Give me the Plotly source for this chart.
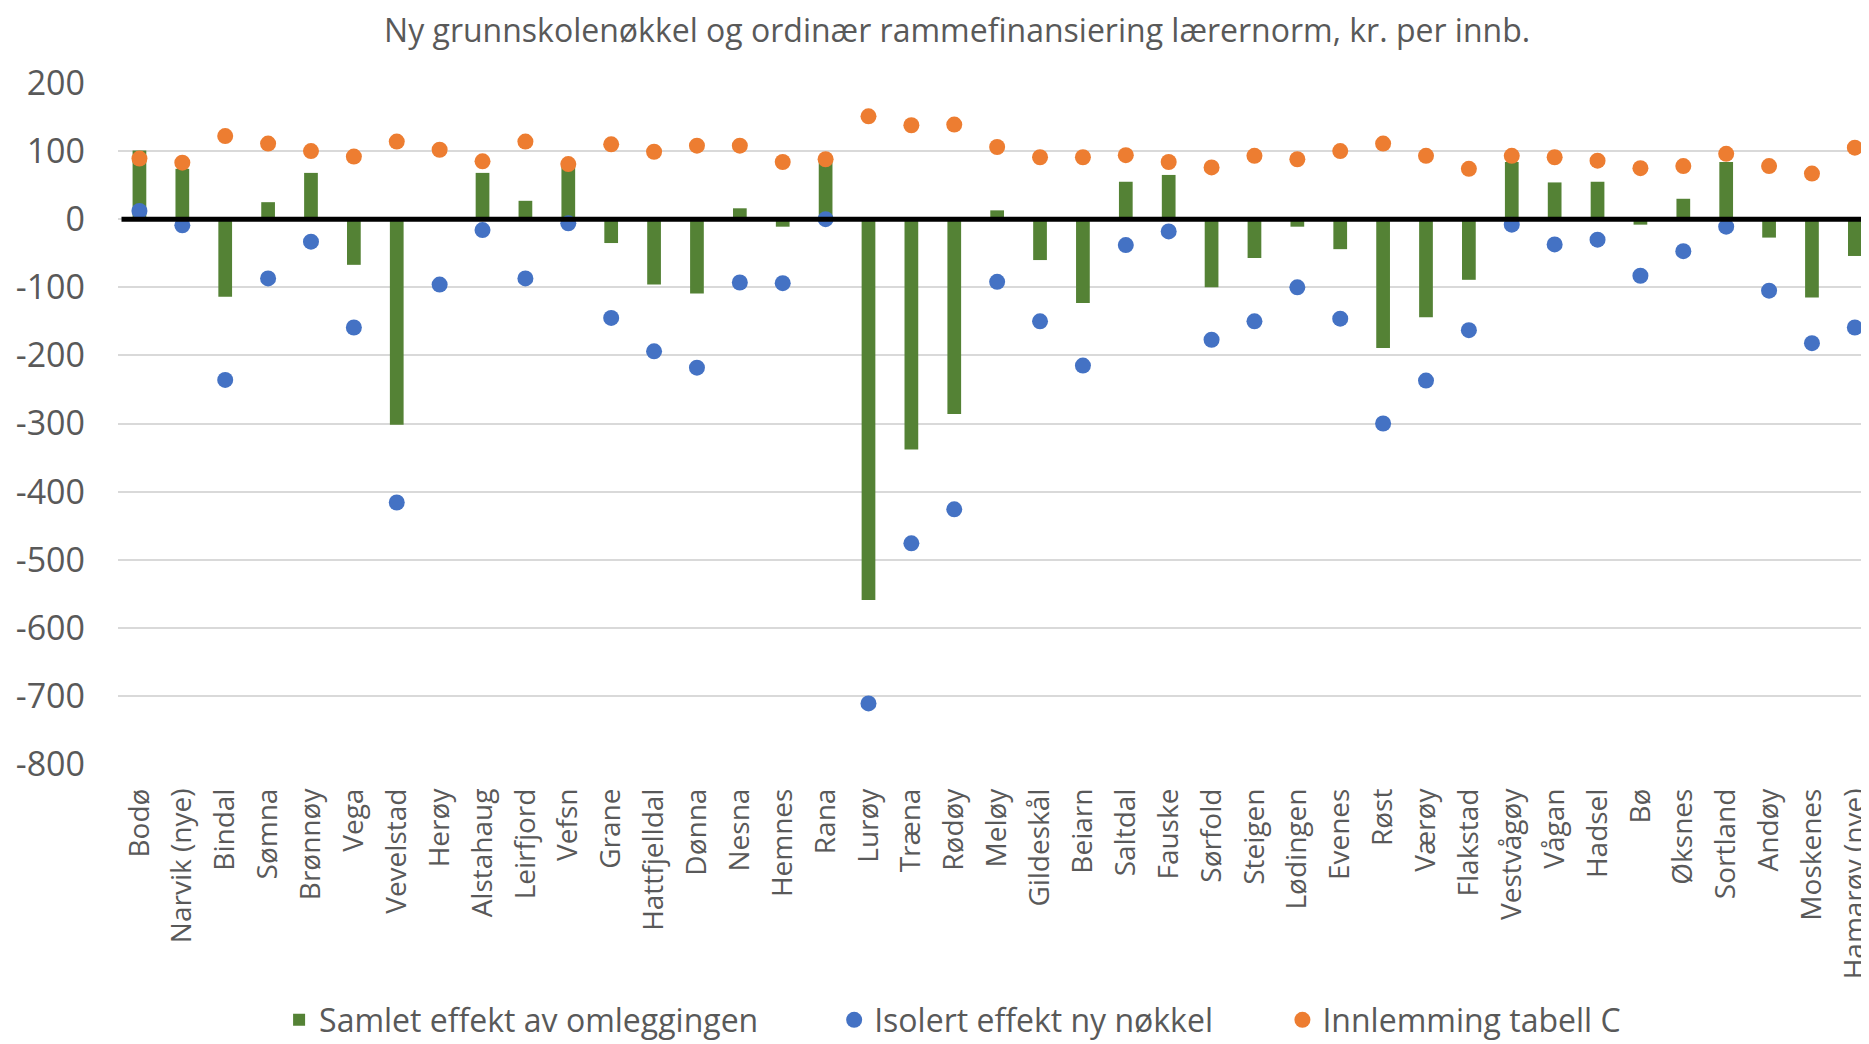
import plotly.graph_objects as go

kommuner = ["Bodø", "Narvik (nye)", "Bindal", "Sømna", "Brønnøy", "Vega", "Vevelstad", "Herøy",
            "Alstahaug", "Leirfjord", "Vefsn", "Grane", "Hattfjelldal", "Dønna", "Nesna", "Hemnes",
            "Rana", "Lurøy", "Træna", "Rødøy", "Meløy", "Gildeskål", "Beiarn", "Saltdal", "Fauske",
            "Sørfold", "Steigen", "Lødingen", "Evenes", "Røst", "Værøy", "Flakstad", "Vestvågøy",
            "Vågan", "Hadsel", "Bø", "Øksnes", "Sortland", "Andøy", "Moskenes", "Hamarøy (nye)"]

samlet = [101, 74, -114, 25, 68, -67, -302, 0, 68, 27, 80, -35, -96, -109, 16, -11,
          86, -559, -338, -286, 13, -60, -123, 55, 65, -100, -57, -11, -44, -189, -144, -89,
          84, 54, 55, -8, 30, 84, -27, -115, -54]

isolert = [12, -9, -236, -87, -33, -159, -416, -96, -16, -87, -6, -145, -194, -218, -93, -94,
           0, -711, -476, -426, -92, -150, -215, -38, -18, -177, -150, -100, -146, -300, -237, -163,
           -8, -37, -30, -83, -47, -11, -105, -182, -159]

innlemming = [89, 83, 122, 111, 100, 92, 114, 102, 85, 114, 81, 110, 99, 108, 108, 84,
              88, 151, 138, 139, 106, 91, 91, 94, 84, 76, 93, 88, 100, 111, 93, 74,
              93, 91, 86, 75, 78, 96, 78, 67, 105]

y_ticks = [200, 100, 0, -100, -200, -300, -400, -500, -600, -700, -800]
y_labels = [str(v) for v in y_ticks]  # plain hyphen like the original

grey = "#595959"
font = "Open Sans"

fig = go.Figure()
fig.add_trace(go.Bar(x=kommuner, y=samlet, name="Samlet effekt av omleggingen",
                     marker=dict(color="#548235", line=dict(width=0)), width=0.32,
                     legend="legend"))
fig.add_trace(go.Scatter(x=kommuner, y=isolert, mode="markers", name="Isolert effekt ny nøkkel",
                         marker=dict(color="#4472C4", size=16), legend="legend2"))
fig.add_trace(go.Scatter(x=kommuner, y=innlemming, mode="markers", name="Innlemming tabell C",
                         marker=dict(color="#ED7D31", size=16), legend="legend3"))

# thick black zero line above the marks
fig.add_shape(type="line", xref="paper", yref="y", x0=0.002, x1=1, y0=0, y1=0,
              line=dict(color="black", width=5), layer="above")

leg = dict(orientation="h", xanchor="left", y=-0.376, yanchor="middle",
           font=dict(size=32, color=grey, family=font), itemsizing="trace",
           bgcolor="rgba(0,0,0,0)")

fig.update_layout(
    width=1861, height=1036,
    margin=dict(l=110, r=0, t=75, b=280, autoexpand=False),
    paper_bgcolor="white", plot_bgcolor="white",
    font=dict(family=font, color=grey),
    title=dict(text="Ny grunnskolenøkkel og ordinær rammefinansiering lærernorm, kr. per innb.",
               x=0.51, xanchor="center", y=0.978, yanchor="middle",
               font=dict(size=32, color=grey, family=font)),
    showlegend=True,
    legend=dict(leg, x=0.092),
    legend2=dict(leg, x=0.409),
    legend3=dict(leg, x=0.665),
)
fig.update_xaxes(range=[-0.5, 40.33], tickangle=-90, showgrid=False, showline=False,
                 tickfont=dict(size=28, color=grey, family=font), ticks="", ticklabelstandoff=18)
fig.update_yaxes(range=[-800, 200], tickvals=y_ticks, ticktext=y_labels,
                 showgrid=True, gridcolor="#D9D9D9", gridwidth=2,
                 zeroline=False, showline=False, ticks="",
                 tickfont=dict(size=34, color=grey, family=font), ticklabelstandoff=32)

fig.write_html("out.html")
